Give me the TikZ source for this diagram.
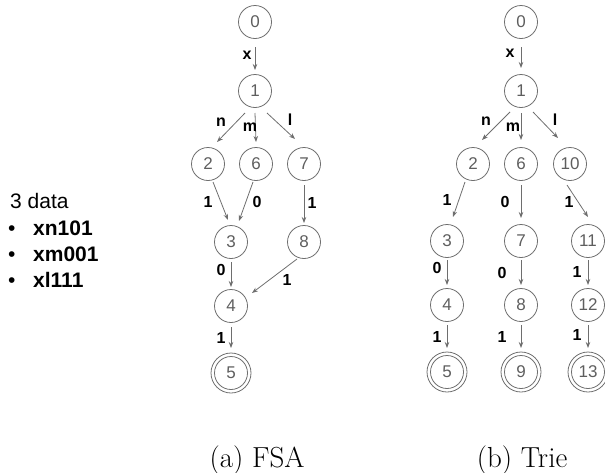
\documentclass[tikz,border=0pt]{standalone}
\usepackage{fontspec}
\setmainfont{Latin Modern Roman}
\newfontfamily\arial{Liberation Sans}
\usetikzlibrary{calc,arrows.meta}
\definecolor{linegray}{HTML}{6E6E6E}
\definecolor{numgray}{HTML}{5E5E5E}
\begin{document}
\begin{tikzpicture}[x=1pt,y=-1pt,
  state/.style={circle,draw=linegray,line width=0.8pt,minimum size=33pt,inner sep=0pt,
    text=numgray,font=\arial\fontsize{17}{19}\selectfont},
  accept/.style={circle,draw=linegray,line width=0.8pt,minimum size=40pt,inner sep=0pt},
  arr/.style={draw=linegray,line width=0.8pt,-{Stealth[length=6pt,width=4.5pt]}},
  lab/.style={font=\arial\bfseries\fontsize{16}{18}\selectfont,inner sep=0pt},
  info/.style={anchor=base west,inner sep=0pt,font=\arial\fontsize{21}{24}\selectfont},
  caption/.style={font=\fontsize{29}{33}\selectfont,inner sep=0pt}]
\useasboundingbox (0,0) rectangle (605,472);

% data list
\node[info] (d0) at (10,208) {3 data};
\node[info] (b1) at (8,235) {•};
\node[info] (w1) at (33,235) {\bfseries xn101};
\node[info] (b2) at (8,261) {•};
\node[info] (w2) at (33,261) {\bfseries xm001};
\node[info] (b3) at (8,287) {•};
\node[info] (w3) at (33,287) {\bfseries xl111};

% (a) FSA
\node[state] (a0) at (255,22) {0};
\node[state] (a1) at (255,91) {1};
\node[state] (a2) at (208,164) {2};
\node[state] (a6) at (256,164) {6};
\node[state] (a7) at (304,164) {7};
\node[state] (a3) at (231,242) {3};
\node[state] (a8) at (304,242) {8};
\node[state] (a4) at (231,306) {4};
\node[state] (a5) at (231,373) {5};
\node[accept] (a5o) at (a5) {};

\draw[arr] ($(a0)+(0,25)$) -- ($(a1)+(0,-21)$);
\draw[arr] ($(a1)+(-10,22)$) -- ($(a2)+(9,-22)$);
\draw[arr] ($(a1)+(0,22)$) -- ($(a6)+(0,-22)$);
\draw[arr] ($(a1)+(12,22)$) -- ($(a7)+(-9,-25)$);
\draw[arr] ($(a2)+(5,18)$) -- ($(a3)+(-3,-22)$);
\draw[arr] ($(a6)+(-3,18)$) -- ($(a3)+(8,-21)$);
\draw[arr] ($(a7)+(0,21)$) -- ($(a8)+(0,-19)$);
\draw[arr] ($(a3)+(0,20)$) -- ($(a4)+(0,-19)$);
\draw[arr] ($(a8)+(-7,17)$) -- ($(a4)+(21,-13)$);
\draw[arr] ($(a4)+(0,21)$) -- ($(a5)+(0,-25)$);

\node[lab] (la01) at (247,55) {x};
\node[lab] (la12) at (221,122) {n};
\node[lab] (la16) at (250,127) {m};
\node[lab] (la17) at (290,120) {l};
\node[lab] (la23) at (208,202) {1};
\node[lab] (la63) at (257,202) {0};
\node[lab] (la78) at (312,203) {1};
\node[lab] (la34) at (221,270) {0};
\node[lab] (la84) at (287,280) {1};
\node[lab] (la45) at (221,338) {1};

% (b) Trie
\node[state] (t0) at (521,22) {0};
\node[state] (t1) at (521,91) {1};
\node[state] (t2) at (473,164) {2};
\node[state] (t6) at (521,164) {6};
\node[state] (t10) at (570,164) {10};
\node[state] (t3) at (447,241) {3};
\node[state] (t7) at (521,241) {7};
\node[state] (t11) at (588,241) {11};
\node[state] (t4) at (447,305) {4};
\node[state] (t8) at (521,305) {8};
\node[state] (t12) at (588,305) {12};
\node[state] (t5) at (447,372) {5};
\node[state] (t9) at (521,372) {9};
\node[state] (t13) at (588,372) {13};
\node[accept] (t5o) at (t5) {};
\node[accept] (t9o) at (t9) {};
\node[accept] (t13o) at (t13) {};

\draw[arr] ($(t0)+(0,25)$) -- ($(t1)+(0,-23)$);
\draw[arr] ($(t1)+(-11,21)$) -- ($(t2)+(9,-24)$);
\draw[arr] ($(t1)+(0,22)$) -- ($(t6)+(0,-24)$);
\draw[arr] ($(t1)+(12,21)$) -- ($(t10)+(-12,-26)$);
\draw[arr] ($(t2)+(-8,18)$) -- ($(t3)+(6,-24)$);
\draw[arr] ($(t6)+(0,21)$) -- ($(t7)+(0,-23)$);
\draw[arr] ($(t10)+(-3,21)$) -- ($(t11)+(0,-24)$);
\draw[arr] ($(t3)+(0,19)$) -- ($(t4)+(0,-20)$);
\draw[arr] ($(t7)+(0,19)$) -- ($(t8)+(0,-20)$);
\draw[arr] ($(t11)+(0,19)$) -- ($(t12)+(0,-20)$);
\draw[arr] ($(t4)+(0,20)$) -- ($(t5)+(0,-24)$);
\draw[arr] ($(t8)+(0,20)$) -- ($(t9)+(0,-24)$);
\draw[arr] ($(t12)+(0,20)$) -- ($(t13)+(0,-24)$);

\node[lab] (lt01) at (510,53) {x};
\node[lab] (lt12) at (486,121) {n};
\node[lab] (lt16) at (513,127) {m};
\node[lab] (lt110) at (555,120) {l};
\node[lab] (lt23) at (447,200) {1};
\node[lab] (lt67) at (505,202) {0};
\node[lab] (lt1011) at (569,202) {1};
\node[lab] (lt34) at (437,268) {0};
\node[lab] (lt78) at (502,273) {0};
\node[lab] (lt1112) at (577,272) {1};
\node[lab] (lt45) at (437,337) {1};
\node[lab] (lt89) at (502,337) {1};
\node[lab] (lt1213) at (577,335) {1};

% captions
\node[caption] (capa) at (257,460) {(a) FSA};
\node[caption] (capb) at (522,460) {(b) Trie};
\end{tikzpicture}
\end{document}
